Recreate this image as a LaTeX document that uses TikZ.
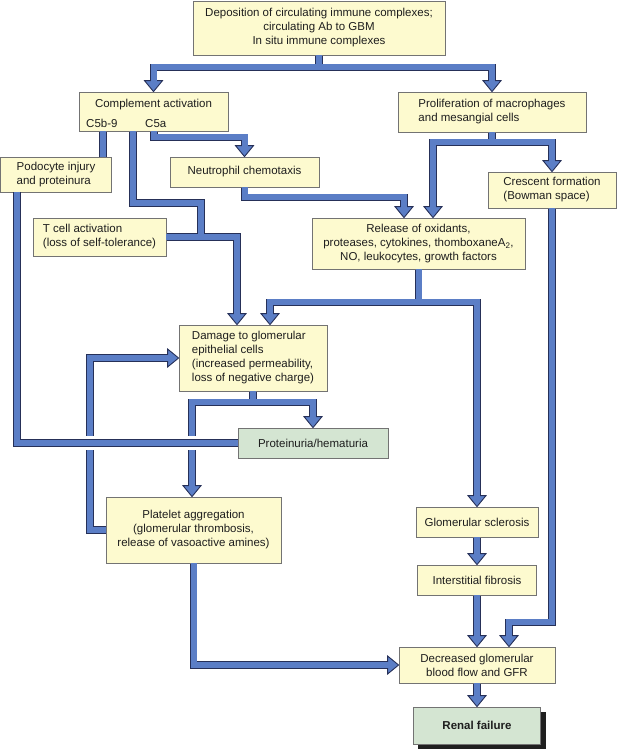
\documentclass[tikz,border=0pt]{standalone}
\usepackage{fontspec}
\setmainfont{Liberation Sans}
\usetikzlibrary{calc}
\definecolor{boxfill}{RGB}{253,250,207}
\definecolor{gboxfill}{RGB}{212,229,210}
\definecolor{boxline}{RGB}{115,115,115}
\definecolor{arrfill}{RGB}{91,126,198}
\definecolor{arrline}{RGB}{38,48,88}
\definecolor{txt}{RGB}{30,30,30}
\pgfdeclarelayer{bg}
\pgfdeclarelayer{outl}
\pgfdeclarelayer{heads}
\pgfdeclarelayer{halo}
\pgfdeclarelayer{outltop}
\pgfdeclarelayer{filltop}
\pgfsetlayers{bg,outl,heads,main,halo,outltop,filltop}
\newcommand\dfont{\fontsize{11.5}{14}\selectfont}
\newcommand\flow[1]{\begin{pgfonlayer}{outl}\draw[shaftout]#1;\end{pgfonlayer}\draw[shaftin]#1;}
\newcommand\flowtop[1]{\begin{pgfonlayer}{halo}\draw[shafthalo]#1;\end{pgfonlayer}\begin{pgfonlayer}{outltop}\draw[shaftout]#1;\end{pgfonlayer}\begin{pgfonlayer}{filltop}\draw[shaftin]#1;\end{pgfonlayer}}
\newcommand\hdown[1]{\begin{pgfonlayer}{heads}\draw[headst] (#1) -- ++(-9,-11) -- ++(18,0) -- cycle;\end{pgfonlayer}}
\newcommand\hright[1]{\begin{pgfonlayer}{heads}\draw[headst] (#1) -- ++(-11,-9) -- ++(0,18) -- cycle;\end{pgfonlayer}}
\begin{document}
\begin{tikzpicture}[x=1pt,y=-1pt,
  box/.style={draw=boxline, fill=boxfill, line width=0.8pt, inner sep=0pt, font=\dfont, text=txt, align=center},
  gbox/.style={box, fill=gboxfill},
  lbox/.style={box, align=left},
  plain/.style={inner sep=0pt, font=\dfont, text=txt},
  shaftout/.style={draw=arrline, line width=7.8pt},
  shaftin/.style={draw=arrfill, line width=6pt},
  shafthalo/.style={draw=white, line width=14pt, shorten <=2pt, shorten >=2pt},
  headst/.style={fill=arrfill, draw=arrline, line width=0.9pt, line join=miter},
]
\useasboundingbox (0,0) rectangle (617,750);
% boxes
\node[box, minimum width=252pt, minimum height=54pt] (top) at (319,28) {Deposition of circulating immune complexes;\\circulating Ab to GBM\\In situ immune complexes};
\node[box, minimum width=149pt, minimum height=39pt] (comp) at (153.5,111.5) {};
\node[plain, anchor=base] (compt) at (153.5,107) {Complement activation};
\node[plain, anchor=base west] (c5b) at (86,127) {C5b-9};
\node[plain, anchor=base west] (c5a) at (145,127) {C5a};
\node[lbox, minimum width=188pt, minimum height=40pt] (prol) at (492,112) {Proliferation of macrophages\\and mesangial cells};
\node[lbox, minimum width=111pt, minimum height=35pt] (podo) at (56,174.5) {Podocyte injury\\and proteinura};
\node[box, minimum width=149pt, minimum height=30pt] (neut) at (244.5,172) {Neutrophil chemotaxis};
\node[lbox, minimum width=128pt, minimum height=36pt] (cres) at (552,190) {Crescent formation\\(Bowman space)};
\node[lbox, minimum width=133pt, minimum height=38pt] (tcell) at (99.5,237) {T cell activation\\(loss of self-tolerance)};
\node[box, minimum width=213pt, minimum height=51pt] (rel) at (418.5,243.5) {Release of oxidants,\\proteases, cytokines, thomboxaneA\textsubscript{2},\\NO, leukocytes, growth factors};
\node[lbox, minimum width=148pt, minimum height=66pt] (dam) at (253,358) {Damage to glomerular\\epithelial cells\\(increased permeability,\\loss of negative charge)};
\node[gbox, minimum width=150pt, minimum height=30pt] (prot) at (313,443) {Proteinuria/hematuria};
\node[box, minimum width=175pt, minimum height=66pt] (plat) at (193.5,530) {Platelet aggregation\\(glomerular thrombosis,\\release of vasoactive amines)};
\node[box, minimum width=122pt, minimum height=30pt] (scl) at (477,522) {Glomerular sclerosis};
\node[box, minimum width=119pt, minimum height=30pt] (inter) at (477,580) {Interstitial fibrosis};
\node[box, minimum width=156pt, minimum height=36pt] (dec) at (477,665) {Decreased glomerular\\blood flow and GFR};
\node[gbox, minimum width=127pt, minimum height=37pt, font=\dfont\bfseries] (renal) at (477,725.5) {Renal failure};
\begin{pgfonlayer}{bg}
\fill[black!88] ([shift={(5pt,-5pt)}]renal.south west) rectangle ([shift={(5pt,-5pt)}]renal.north east);
\end{pgfonlayer}
% helper coordinates
\coordinate (xc5b) at (103,0);
\coordinate (xs2) at (133,0);
\coordinate (j1) at (201,203);
\coordinate (xc5a) at (154,0);
\coordinate (xr1) at (404,0);
\coordinate (xr2) at (433,0);
\coordinate (xd1) at (237,0);
\coordinate (xd2) at (270,0);
\coordinate (xpl) at (192,0);
\coordinate (xdec2) at (509,0);
\coordinate (xfb) at (90,0);
\coordinate (xpod) at (17,0);
\coordinate (tR1) at (rel.north -| xr1);
\coordinate (tR2) at (rel.north -| xr2);
\coordinate (tD1) at (dam.north -| xd1);
\coordinate (tD2) at (dam.north -| xd2);
\coordinate (tP) at (plat.north -| xpl);
\coordinate (tDec2) at (dec.north -| xdec2);
% connectors
\flow{(top.south) -- ++(0,12) -| ([yshift=10pt]comp.north)} \hdown{comp.north}
\flow{(top.south) -- ++(0,12) -| ([yshift=10pt]prol.north)} \hdown{prol.north}
\flow{(comp.south -| xc5b) -- (podo.north -| xc5b)}
\flow{(comp.south -| xs2) |- (j1) -- (j1 |- tcell.east)}
\flow{(tcell.east) -| ([yshift=10pt]tD1)} \hdown{tD1}
\flow{(comp.south -| xc5a) -- ++(0,6) -| ([yshift=10pt]neut.north)} \hdown{neut.north}
\flow{(neut.south) -- ++(0,10) -| ([yshift=10pt]tR1)} \hdown{tR1}
\flow{(prol.south) -- ++(0,10) -| ([yshift=10pt]tR2)} \hdown{tR2}
\flow{(prol.south) -- ++(0,10) -| ([yshift=10pt]cres.north)} \hdown{cres.north}
\flow{(rel.south) -- ++(0,33) -| ([yshift=10pt]tD2)} \hdown{tD2}
\flow{(rel.south) -- ++(0,33) -| ([yshift=10pt]scl.north)} \hdown{scl.north}
\flow{(cres.south) -- ++(0,414) -| ([yshift=10pt]tDec2)} \hdown{tDec2}
\flow{(scl.south) -- ([yshift=10pt]inter.north)} \hdown{inter.north}
\flow{(inter.south) -- ([yshift=10pt]dec.north)} \hdown{dec.north}
\flow{(dec.south) -- ([yshift=10pt]renal.north)} \hdown{renal.north}
\flow{(plat.south) |- ([xshift=-10pt]dec.west)} \hright{dec.west}
\flow{(dam.south) -- ++(0,11) -| ([yshift=10pt]tP)} \hdown{tP}
\flow{(dam.south) -- ++(0,11) -| ([yshift=10pt]prot.north)} \hdown{prot.north}
\flow{(plat.west) -| (xfb |- dam.west) -- ([xshift=-10pt]dam.west)} \hright{dam.west}
\flowtop{(podo.south -| xpod) |- (prot.west)}
\end{tikzpicture}
\end{document}
